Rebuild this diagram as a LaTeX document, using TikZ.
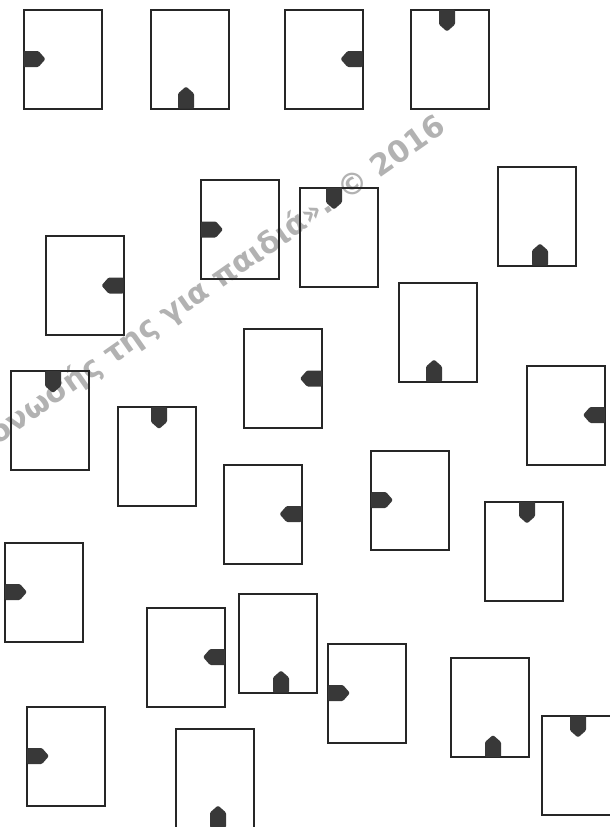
\documentclass[tikz,border=0pt]{standalone}
\usepackage{fontspec}
\usepackage{tikz}
\newfontfamily\markfont{DejaVu Sans}

\begin{document}
\begin{tikzpicture}[
    x=0.5pt, y=-0.5pt,
    card/.style={rectangle, draw=black!85, line width=1pt, minimum width=39pt, minimum height=49.5pt, inner sep=0pt, outer sep=0pt},
    tab/.pic={\fill[black!78, rounded corners=0.6pt] (0,-4pt) -- (7.5pt,-4pt) -- (11pt,0pt) -- (7.5pt,4pt) -- (0,4pt) -- cycle;},
    stamp/.style={text=black!30, font=\markfont\bfseries\fontsize{15}{17}\selectfont, inner sep=0pt}
]
\useasboundingbox (0,0) rectangle (610,827);

\node[stamp, anchor=base east, rotate=35] (mark) at (448,130) {ονωσής της για παιδιά». © 2016};

\node[card] (c1) at (62.5,59) {};
\node[card] (c2) at (190,59) {};
\node[card] (c3) at (323.5,59) {};
\node[card] (c4) at (450,59) {};
\node[card] (c5) at (240,229.5) {};
\node[card] (c6) at (339,237) {};
\node[card] (c7) at (536.5,216) {};
\node[card] (c8) at (84.5,285.5) {};
\node[card] (c9) at (438,332) {};
\node[card] (c10) at (283,378.5) {};
\node[card] (c11) at (50,420.5) {};
\node[card] (c12) at (156.5,456.5) {};
\node[card] (c13) at (566,415) {};
\node[card] (c14) at (262.5,514) {};
\node[card] (c15) at (410,500) {};
\node[card] (c16) at (524,551) {};
\node[card] (c17) at (44,592) {};
\node[card] (c18) at (186,657) {};
\node[card] (c19) at (277.5,643) {};
\node[card] (c20) at (367,693) {};
\node[card] (c21) at (489.5,707.5) {};
\node[card] (c22) at (66,756) {};
\node[card] (c23) at (214.5,778) {};
\node[card] (c24) at (581,765) {};

\pic at (c1.west) {tab};
\pic[rotate=90] at ([xshift=-2pt]c2.south) {tab};
\pic[rotate=180] at (c3.east) {tab};
\pic[rotate=-90] at ([xshift=-1.5pt]c4.north) {tab};
\pic at (c5.west) {tab};
\pic[rotate=-90] at ([xshift=-2.5pt]c6.north) {tab};
\pic[rotate=90] at ([xshift=1.75pt]c7.south) {tab};
\pic[rotate=180] at (c8.east) {tab};
\pic[rotate=90] at ([xshift=-2pt]c9.south) {tab};
\pic[rotate=180] at (c10.east) {tab};
\pic[rotate=-90] at ([xshift=1.5pt]c11.north) {tab};
\pic[rotate=-90] at ([xshift=1.25pt]c12.north) {tab};
\pic[rotate=180] at (c13.east) {tab};
\pic[rotate=180] at (c14.east) {tab};
\pic at (c15.west) {tab};
\pic[rotate=-90] at ([xshift=1.5pt]c16.north) {tab};
\pic at (c17.west) {tab};
\pic[rotate=180] at (c18.east) {tab};
\pic[rotate=90] at ([xshift=1.75pt]c19.south) {tab};
\pic at (c20.west) {tab};
\pic[rotate=90] at ([xshift=1.75pt]c21.south) {tab};
\pic at (c22.west) {tab};
\pic[rotate=90] at ([xshift=1.75pt]c23.south) {tab};
\pic[rotate=-90] at ([xshift=-1.5pt]c24.north) {tab};
\end{tikzpicture}
\end{document}
